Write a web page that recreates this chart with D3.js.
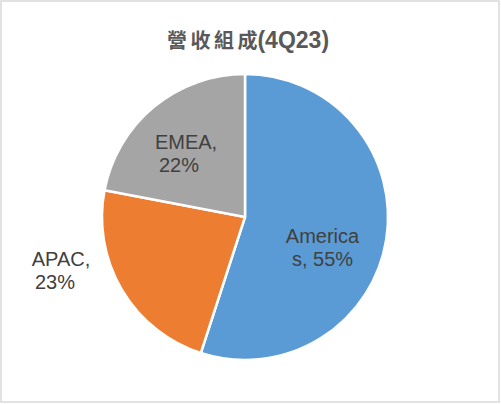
<!DOCTYPE html>
<html><head><meta charset="utf-8">
<script src="https://cdn.jsdelivr.net/npm/d3@7"></script>
<style>html,body{margin:0;padding:0;background:#fff;}svg{display:block;}</style>
</head><body>
<svg id="c" width="501" height="404"></svg>
<script>
const categories = ["Americas", "APAC", "EMEA"];
const values = [55, 23, 22];
const labelLine1 = ["America", "APAC,", "EMEA,"];
const labelLine2 = ["s, 55%", "23%", "22%"];
const colors = ["#5B9BD5", "#ED7D31", "#A5A5A5"];
const titleCJK = "營收組成";
const titleLatin = "(4Q23)";

const svg = d3.select("#c");
svg.append("rect").attr("x",1).attr("y",1).attr("width",498).attr("height",401)
  .attr("fill","#fff").attr("stroke","#d9d9d9").attr("stroke-width",1.5);

// title
const title = svg.append("text").attr("x",248).attr("y",48).attr("text-anchor","middle")
  .attr("fill","#595959").attr("font-weight","bold");
title.append("tspan").attr("font-family","'Noto Sans CJK TC'").attr("font-size",20)
  .attr("letter-spacing",3.5).text(titleCJK.slice(0,-1));
title.append("tspan").attr("font-family","'Noto Sans CJK TC'").attr("font-size",20)
  .text(titleCJK.slice(-1));
title.append("tspan").attr("font-family","'Liberation Sans', Arial").attr("font-size",23).text(titleLatin);

const cx = 245, cy = 217, R = 143;
const g = svg.append("g").attr("transform",`translate(${cx},${cy})`);
const pie = d3.pie().sort(null).value(d=>d);
const arcs = pie(values);
const arc = d3.arc().innerRadius(0).outerRadius(R);
g.selectAll("path").data(arcs).join("path")
  .attr("d",arc).attr("fill",(d,i)=>colors[i])
  .attr("stroke","#fff").attr("stroke-width",2.5).attr("stroke-linejoin","round");

// label layout (offsets from pie centre)
const labelPos = [[77.5,26,0],[-184,49,-6],[-59,-68,-7]];
const lab = g.selectAll("text.lab").data(arcs).join("text").attr("class","lab")
  .attr("font-family","'Liberation Sans', Arial").attr("font-size",20).attr("fill","#404040")
  .attr("text-anchor","middle");
lab.append("tspan").attr("x",(d,i)=>labelPos[i][0]).attr("y",(d,i)=>labelPos[i][1]).text((d,i)=>labelLine1[i]);
lab.append("tspan").attr("x",(d,i)=>labelPos[i][0]+labelPos[i][2]).attr("y",(d,i)=>labelPos[i][1]+23).text((d,i)=>labelLine2[i]);
</script>
</body></html>
